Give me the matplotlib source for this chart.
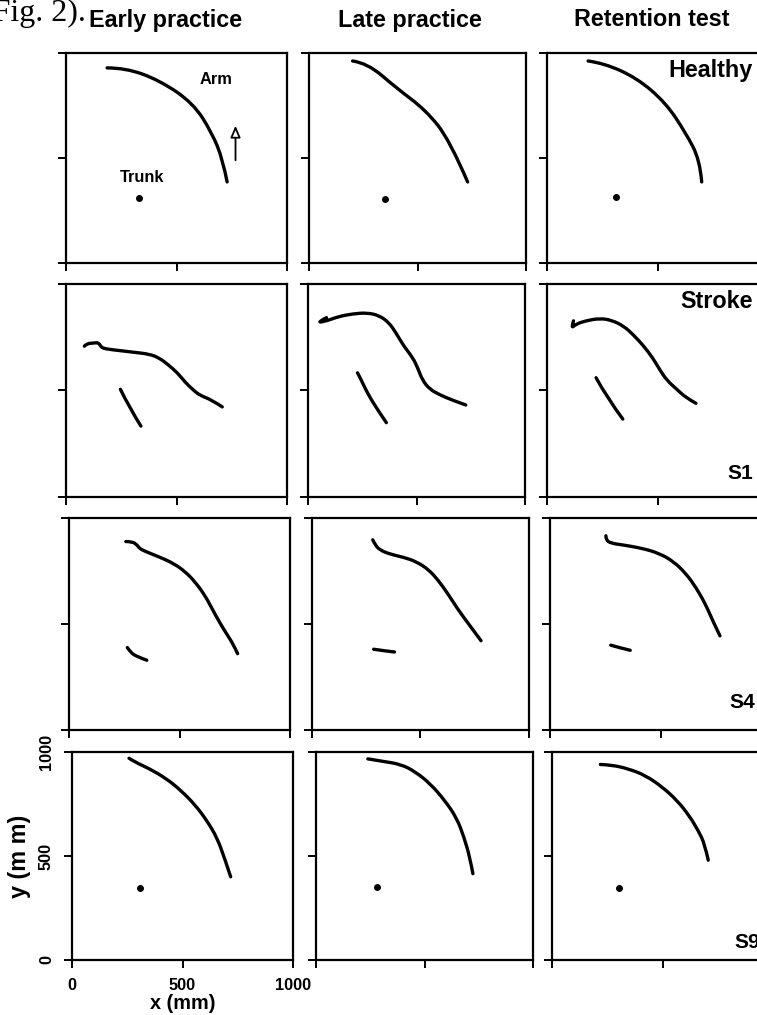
import matplotlib
matplotlib.use("Agg")
import matplotlib.pyplot as plt
from matplotlib import font_manager
from matplotlib.path import Path
from matplotlib.patches import PathPatch

# Hand paths in the horizontal plane (mm): arm endpoint and trunk marker
conditions = ["Early practice", "Late practice", "Retention test"]
groups = ["Healthy", "S1", "S4", "S9"]

# Healthy subject
h_early_arm_x = [186, 269, 421, 575, 661, 710, 729]
h_early_arm_y = [929, 929, 871, 762, 619, 490, 386]
h_early_trunk_x = [330]
h_early_trunk_y = [310]
h_late_arm_x = [201, 269, 403, 537, 648, 731]
h_late_arm_y = [962, 952, 833, 729, 586, 386]
h_late_trunk_x = [352]
h_late_trunk_y = [305]
h_ret_arm_x = [186, 256, 407, 538, 628, 692, 700]
h_ret_arm_y = [962, 952, 881, 762, 619, 490, 386]
h_ret_trunk_x = [310]
h_ret_trunk_y = [314]

# Stroke S1
s1_early_arm_x = [83, 93, 126, 148, 159, 180, 246, 311, 376, 420, 463, 507, 539, 572, 604, 659, 707]
s1_early_arm_y = [708, 720, 723, 725, 703, 695, 687, 679, 671, 654, 621, 580, 539, 506, 478, 456, 423]
s1_early_trunk_x = [246, 289, 339]
s1_early_trunk_y = [506, 415, 333]
s1_late_arm_x = [85, 38, 90, 140, 206, 273, 328, 373, 406, 439, 483, 506, 528, 561, 605, 661, 727]
s1_late_arm_y = [842, 817, 828, 847, 860, 865, 852, 819, 770, 712, 654, 605, 547, 506, 481, 456, 432]
s1_late_trunk_x = [228, 239, 273, 317, 361]
s1_late_trunk_y = [583, 563, 489, 415, 349]
s1_ret_arm_x = [120, 109, 130, 174, 239, 293, 348, 391, 435, 478, 511, 543, 587, 630, 674]
s1_ret_arm_y = [827, 791, 811, 827, 839, 830, 802, 761, 712, 654, 596, 547, 506, 465, 440]
s1_ret_trunk_x = [222, 272, 343]
s1_ret_trunk_y = [560, 465, 366]

# Stroke S4
s4_early_arm_x = [257, 286, 308, 319, 341, 407, 473, 527, 571, 615, 648, 681, 714, 743, 763]
s4_early_arm_y = [889, 889, 873, 857, 844, 817, 786, 746, 698, 635, 571, 508, 452, 405, 360]
s4_early_trunk_x = [264, 279, 308, 352]
s4_early_trunk_y = [389, 365, 346, 329]
s4_late_arm_x = [280, 291, 313, 358, 425, 481, 537, 582, 626, 671, 716, 779]
s4_late_arm_y = [897, 873, 849, 830, 814, 794, 757, 706, 643, 571, 508, 421]
s4_late_trunk_x = [284, 336, 380]
s4_late_trunk_y = [381, 373, 368]
s4_ret_arm_x = [253, 253, 275, 330, 418, 495, 560, 615, 659, 703, 736, 769]
s4_ret_arm_y = [916, 897, 881, 873, 857, 833, 794, 738, 675, 595, 516, 444]
s4_ret_trunk_x = [275, 319, 363]
s4_ret_trunk_y = [400, 387, 376]

# Stroke S9
s9_early_arm_x = [258, 284, 350, 427, 492, 558, 613, 656, 689, 718]
s9_early_arm_y = [970, 952, 920, 872, 816, 745, 666, 588, 494, 400]
s9_early_trunk_x = [306]
s9_early_trunk_y = [345]
s9_late_arm_x = [239, 302, 392, 459, 526, 593, 649, 682, 709, 723]
s9_late_arm_y = [967, 956, 941, 904, 848, 768, 682, 590, 494, 415]
s9_late_trunk_x = [280]
s9_late_trunk_y = [352]
s9_ret_arm_x = [219, 269, 346, 422, 499, 565, 619, 663, 691, 707]
s9_ret_arm_y = [940, 938, 919, 888, 832, 768, 697, 620, 557, 480]
s9_ret_trunk_x = [302]
s9_ret_trunk_y = [348]

# direction-of-movement arrow drawn in the first panel
arrow_x = [767, 767]
arrow_y = [476, 667]

ticks = [0, 500, 1000]
tick_labels = ["0", "500", "1000"]

arms = [
    [(h_early_arm_x, h_early_arm_y), (h_late_arm_x, h_late_arm_y), (h_ret_arm_x, h_ret_arm_y)],
    [(s1_early_arm_x, s1_early_arm_y), (s1_late_arm_x, s1_late_arm_y), (s1_ret_arm_x, s1_ret_arm_y)],
    [(s4_early_arm_x, s4_early_arm_y), (s4_late_arm_x, s4_late_arm_y), (s4_ret_arm_x, s4_ret_arm_y)],
    [(s9_early_arm_x, s9_early_arm_y), (s9_late_arm_x, s9_late_arm_y), (s9_ret_arm_x, s9_ret_arm_y)],
]
trunks = [
    [(h_early_trunk_x, h_early_trunk_y), (h_late_trunk_x, h_late_trunk_y), (h_ret_trunk_x, h_ret_trunk_y)],
    [(s1_early_trunk_x, s1_early_trunk_y), (s1_late_trunk_x, s1_late_trunk_y), (s1_ret_trunk_x, s1_ret_trunk_y)],
    [(s4_early_trunk_x, s4_early_trunk_y), (s4_late_trunk_x, s4_late_trunk_y), (s4_ret_trunk_x, s4_ret_trunk_y)],
    [(s9_early_trunk_x, s9_early_trunk_y), (s9_late_trunk_x, s9_late_trunk_y), (s9_ret_trunk_x, s9_ret_trunk_y)],
]

available = {f.name for f in font_manager.fontManager.ttflist}
narrow = "Liberation Sans Narrow" in available
label_font = ["Liberation Sans Narrow", "DejaVu Sans"] if narrow else ["Liberation Sans", "DejaVu Sans"]
scale = 1.0 if narrow else 0.84

W, H = 757, 1015
fig = plt.figure(figsize=(W / 100, H / 100), dpi=100)


def fx(px):
    return px / W


def fy(py):
    return 1 - py / H


def draw_trace(ax, xs, ys, lw=2.4):
    # smooth pen-like trace: sampled points act as quadratic Bezier controls
    pts = list(zip(xs, ys))
    if len(pts) < 3:
        ax.plot(xs, ys, color="black", lw=lw, solid_capstyle="round")
        return
    verts = [pts[0]]
    codes = [Path.MOVETO]
    for i in range(1, len(pts) - 1):
        nxt = pts[i + 1] if i == len(pts) - 2 else ((pts[i][0] + pts[i + 1][0]) / 2,
                                                    (pts[i][1] + pts[i + 1][1]) / 2)
        verts += [pts[i], nxt]
        codes += [Path.CURVE3, Path.CURVE3]
    ax.add_patch(PathPatch(Path(verts, codes), fill=False, ec="black", lw=lw,
                           capstyle="round", joinstyle="round"))


# panel frames in pixels (scanned page is slightly skewed)
row_px = [(53, 263), (284, 497), (518, 730), (752, 960)]
col_left_px = [[66, 309, 547], [66, 308, 547], [69, 312, 550], [72, 316, 552]]
col_w_px = [221, 217, 221]

for r in range(4):
    top, bottom = row_px[r]
    for c in range(3):
        left = col_left_px[r][c]
        ax = fig.add_axes([fx(left), fy(bottom), col_w_px[c] / W, (bottom - top) / H])
        ax.set_xlim(0, 1000)
        ax.set_ylim(0, 1000)
        for s in ax.spines.values():
            s.set_linewidth(1.6)
        ax.set_xticks(ticks)
        ax.set_yticks(ticks)
        ax.tick_params(direction="out", length=6, width=1.4, top=False, right=False, pad=7)
        if r == 3 and c == 0:
            ax.set_xticklabels(tick_labels, fontfamily=label_font, fontweight="bold", fontsize=14 * scale)
            ax.set_yticklabels(tick_labels, fontfamily=label_font, fontweight="bold", fontsize=14 * scale,
                               rotation=90, va="center")
            ax.set_xlabel("x (mm)", fontfamily=label_font, fontweight="bold", fontsize=17 * scale, labelpad=1)
            ax.set_ylabel("y (m m)", fontfamily=label_font, fontweight="bold", fontsize=20 * scale, labelpad=6)
        else:
            ax.set_xticklabels([])
            ax.set_yticklabels([])

        arm_x, arm_y = arms[r][c]
        draw_trace(ax, arm_x, arm_y)
        tr_x, tr_y = trunks[r][c]
        if len(tr_x) == 1:
            ax.plot(tr_x, tr_y, "o", color="black", ms=4)
        else:
            draw_trace(ax, tr_x, tr_y)

        if r == 0 and c == 0:
            ax.text(679, 876, "Arm", ha="center", va="center", fontfamily=label_font,
                    fontweight="bold", fontsize=14 * scale)
            ax.text(344, 405, "Trunk", ha="center", va="center", fontfamily=label_font,
                    fontweight="bold", fontsize=14 * scale)
            ax.annotate("", xy=(arrow_x[1], arrow_y[1]), xytext=(arrow_x[0], arrow_y[0]),
                        arrowprops=dict(arrowstyle="-|>,head_length=0.7,head_width=0.3",
                                        fc="white", ec="black", lw=1.3))

# column headings
for name, xc in zip(conditions, [166, 410, 652]):
    fig.text(fx(xc), fy(20), name, ha="center", va="center", fontfamily=label_font,
             fontweight="bold", fontsize=20 * scale)

# group labels on the right-hand column
fig.text(fx(753), fy(70), groups[0], ha="right", va="center", fontfamily=label_font,
         fontweight="bold", fontsize=20 * scale)
fig.text(fx(753), fy(302), "Stroke", ha="right", va="center", fontfamily=label_font,
         fontweight="bold", fontsize=20 * scale)
for name, py, px in zip(groups[1:], [473, 703, 942], [753, 755, 760]):
    fig.text(fx(px), fy(py), name, ha="right", va="center", fontfamily=label_font,
             fontweight="bold", fontsize=18 * scale)

# running text from the page above the figure
fig.text(fx(86), fy(13), "(Fig. 2).", ha="right", va="center", fontfamily=["Liberation Serif", "DejaVu Serif"],
         fontsize=23)

fig.savefig("out.png", dpi=100, facecolor="white")
